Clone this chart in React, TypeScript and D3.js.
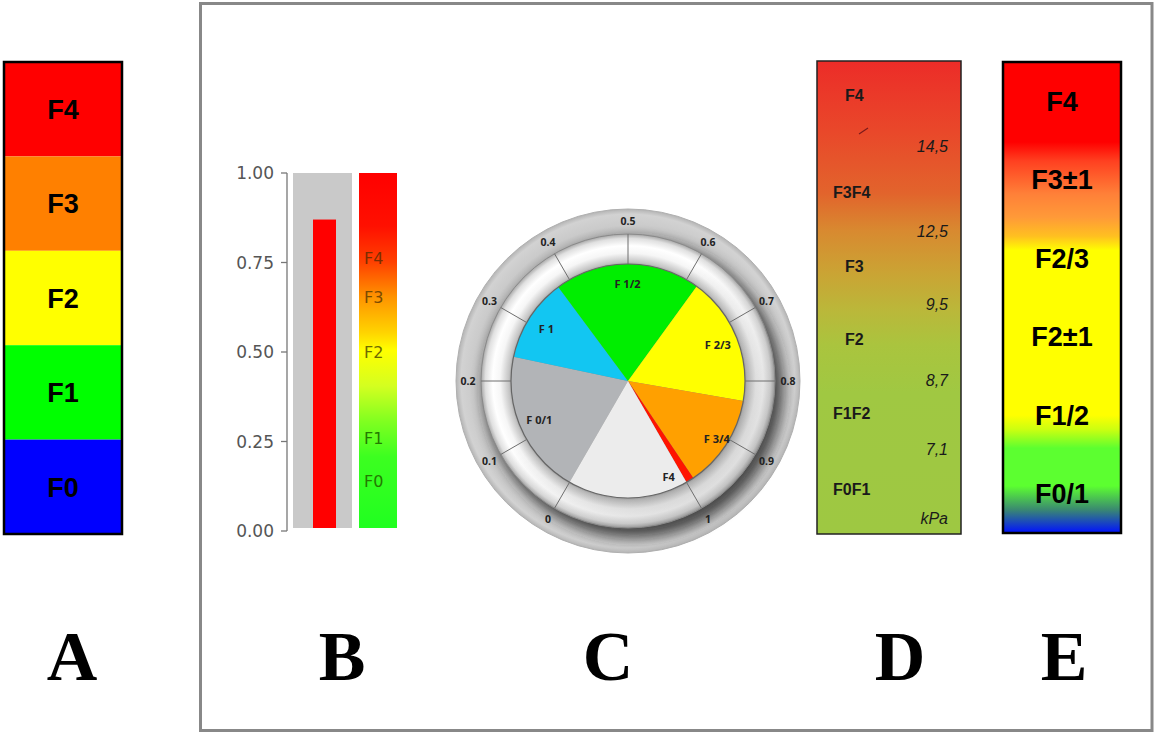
import React from 'react';
import * as d3 from 'd3';

// ---------- Panel A ----------
const stagesA = ['F4', 'F3', 'F2', 'F1', 'F0'];
const colorsA = ['#ff0000', '#ff8000', '#ffff00', '#00ff00', '#0000ff'];

// ---------- Panel B ----------
const ticksB = [0, 0.25, 0.5, 0.75, 1];
const barValueB = 0.87;
const labelsB = ['F4', 'F3', 'F2', 'F1', 'F0'];
const labelValuesB = [0.763, 0.654, 0.5, 0.26, 0.14];
const labelColorsB = ['#7a2e00', '#7a4a00', '#6e6a00', '#237a00', '#237a00'];
const gradStopsB: [number, string][] = [
  [0, '#ff0000'], [0.15, '#ff1000'], [0.25, '#ff4000'], [0.35, '#ff9400'],
  [0.45, '#ffd400'], [0.5, '#ffff00'], [0.6, '#d4ff20'], [0.7, '#80ff20'],
  [0.8, '#3cff20'], [1, '#20ff20'],
];

// ---------- Panel C ----------
const gaugeTicks = [0, 0.1, 0.2, 0.3, 0.4, 0.5, 0.6, 0.7, 0.8, 0.9, 1];
const sliceNames = ['F 0/1', 'F 1', 'F 1/2', 'F 2/3', 'F 3/4', 'F4', ''];
const sliceStart = [0, 0.24, 0.378, 0.62, 0.833, 0.987, 1.0];
const sliceEnd = [0.24, 0.378, 0.62, 0.833, 0.987, 1.0, 1.2];
const sliceColors = ['#b2b4b7', '#12c6f2', '#00ee00', '#ffff00', '#ffa000', '#ff1400', '#ececec'];

// ---------- Panel D ----------
const itemsD = ['F4', '14,5', 'F3F4', '12,5', 'F3', '9,5', 'F2', '8,7', 'F1F2', '7,1', 'F0F1', 'kPa'];
const kindD = ['s', 'v', 's', 'v', 's', 'v', 's', 'v', 's', 'v', 's', 'v'];
const posD = [0.072, 0.18, 0.277, 0.36, 0.434, 0.515, 0.589, 0.675, 0.745, 0.82, 0.906, 0.966];
const gradStopsD: [number, string][] = [
  [0, '#ec2c28'], [0.15, '#e9482a'], [0.28, '#e2642c'], [0.36, '#d88a30'],
  [0.45, '#caa434'], [0.53, '#bab83a'], [0.6, '#aac43e'], [0.7, '#a0c842'], [1, '#9ec842'],
];

// ---------- Panel E ----------
const stagesE = ['F4', 'F3±1', 'F2/3', 'F2±1', 'F1/2', 'F0/1'];
const gradStopsE: [number, string][] = [
  [0, '#ff0000'], [0.17, '#ff0000'], [0.21, '#ff4020'], [0.28, '#ff8038'], [0.33, '#ff9a38'],
  [0.37, '#ffc020'], [0.4, '#ffff00'], [0.75, '#ffff00'], [0.78, '#ccff10'], [0.82, '#5cff30'],
  [0.9, '#5cff30'], [0.95, '#3a8a70'], [1, '#0010ff'],
];

// ---------- Letters ----------
const panelLetters = ['A', 'B', 'C', 'D', 'E'];
const letterX = [72, 342, 608, 900, 1064];

const sans = 'Liberation Sans, Arial, sans-serif';

export default function App() {
  // A
  const yA = d3.scaleBand<string>().domain(stagesA).range([62, 534]);
  // B
  const yB = d3.scaleLinear().domain([0, 1]).range([531, 173]);
  // C
  const cx = 628, cy = 381;
  const rPie = 117, rRing = 147, rOuter = 172;
  const ang = d3.scaleLinear().domain([0, 1]).range([-150, 150]);
  const rad = (v: number) => (ang(v) * Math.PI) / 180;
  const arc = d3.arc<any>().innerRadius(0).outerRadius(rPie);
  const slices = sliceNames.map((n, i) => ({
    name: n, color: sliceColors[i],
    startAngle: rad(sliceStart[i]), endAngle: rad(sliceEnd[i]),
  }));
  // D
  const yD = d3.scaleLinear().domain([0, 1]).range([61, 534]);
  // E
  const yE = d3.scalePoint<string>().domain(stagesE).range([62, 533]).padding(0.5);

  const polar = (a: number, r: number) => [Math.sin(a) * r, -Math.cos(a) * r];

  return (
    <svg width={1156} height={733} style={{ position: 'absolute', left: 0, top: 0 }}>
      <defs>
        <linearGradient id="gB" x1="0" y1="0" x2="0" y2="1">
          {gradStopsB.map(([o, c], i) => <stop key={i} offset={o} stopColor={c} />)}
        </linearGradient>
        <linearGradient id="gD" x1="0" y1="0" x2="0" y2="1">
          {gradStopsD.map(([o, c], i) => <stop key={i} offset={o} stopColor={c} />)}
        </linearGradient>
        <linearGradient id="gE" x1="0" y1="0" x2="0" y2="1">
          {gradStopsE.map(([o, c], i) => <stop key={i} offset={o} stopColor={c} />)}
        </linearGradient>
        <radialGradient id="gOuter" cx={0} cy={0} r={rOuter} gradientUnits="userSpaceOnUse">
          <stop offset={0.85} stopColor="#b8b8b8" />
          <stop offset={0.9} stopColor="#cacaca" />
          <stop offset={0.97} stopColor="#d2d2d2" />
          <stop offset={1} stopColor="#b4b4b4" />
        </radialGradient>
        <radialGradient id="gRing" cx={0} cy={0} r={rRing} gradientUnits="userSpaceOnUse">
          <stop offset={0.78} stopColor="#8c8c8c" />
          <stop offset={0.81} stopColor="#c4c4c4" />
          <stop offset={0.87} stopColor="#f6f6f6" />
          <stop offset={0.92} stopColor="#ffffff" />
          <stop offset={0.97} stopColor="#e0e0e0" />
          <stop offset={1} stopColor="#a8a8a8" />
        </radialGradient>
        <linearGradient id="gShade" x1="0" y1="0" x2="1" y2="1">
          <stop offset={0.4} stopColor="#000" stopOpacity={0} />
          <stop offset={1} stopColor="#000" stopOpacity={0.18} />
        </linearGradient>
        <filter id="blur" x="-30%" y="-30%" width="160%" height="160%">
          <feGaussianBlur stdDeviation={7} />
        </filter>
      </defs>

      {/* Frame */}
      <rect x={200.5} y={3.5} width={951.5} height={727} fill="none" stroke="#888" strokeWidth={3} />

      {/* Panel A */}
      <g>
        {stagesA.map((s, i) => (
          <g key={s}>
            <rect x={4} y={yA(s)!} width={118} height={yA.bandwidth()} fill={colorsA[i]} />
            <text x={63} y={yA(s)! + yA.bandwidth() / 2} dy="0.36em" textAnchor="middle"
              fontFamily={sans} fontWeight="bold" fontSize={27} fill="#000">{s}</text>
          </g>
        ))}
        <rect x={4} y={62} width={118} height={472} fill="none" stroke="#000" strokeWidth={2.5} />
      </g>

      {/* Panel B */}
      <g>
        <line x1={287} x2={287} y1={yB(0)} y2={yB(1)} stroke="#777" strokeWidth={1.3} />
        {ticksB.map((t) => (
          <g key={t}>
            <line x1={281} x2={287} y1={yB(t)} y2={yB(t)} stroke="#777" strokeWidth={1.3} />
            <text x={274} y={yB(t)} dy="0.36em" textAnchor="end" fontFamily="DejaVu Sans, sans-serif"
              fontSize={17} fill="#555">{t.toFixed(2)}</text>
          </g>
        ))}
        <rect x={293} y={yB(1)} width={59} height={yB(0) - yB(1) - 3} fill="#c9c9c9" />
        <rect x={313} y={yB(barValueB)} width={23} height={yB(0) - yB(barValueB) - 3} fill="#ff0000" />
        <rect x={359} y={yB(1)} width={38} height={yB(0) - yB(1) - 3} fill="url(#gB)" />
        {labelsB.map((l, i) => (
          <text key={l} x={364} y={yB(labelValuesB[i])} dy="0.36em" fontFamily="DejaVu Sans, sans-serif"
            fontSize={16} fill={labelColorsB[i]}>{l}</text>
        ))}
      </g>

      {/* Panel C */}
      <g transform={`translate(${cx},${cy})`}>
        <circle r={rOuter} fill="url(#gOuter)" stroke="#b0b0b0" strokeWidth={1} />
        <circle r={rRing + 2} cx={6} cy={8} fill="#222" opacity={0.75} filter="url(#blur)" />
        <circle r={rRing} fill="url(#gRing)" />
        <circle r={rRing} fill="url(#gShade)" />
        <circle r={rRing} fill="none" stroke="#8a8a8a" strokeWidth={1} />
        {slices.map((s, i) => (
          <path key={i} d={arc(s) as string} fill={s.color} />
        ))}
        <circle r={rPie} fill="none" stroke="#666" strokeWidth={1.2} />
        {gaugeTicks.map((t) => {
          const a = rad(t);
          const [x1, y1] = polar(a, rPie);
          const [x2, y2] = polar(a, rRing);
          const [tx, ty] = polar(a, 160);
          return (
            <g key={t}>
              <line x1={x1} y1={y1} x2={x2} y2={y2} stroke="#6e6e6e" strokeWidth={1} />
              <text x={tx} y={ty} dy="0.36em" textAnchor="middle" fontFamily="Noto Sans, sans-serif"
                fontWeight="bold" fontSize={10.5} fill="#222">{t}</text>
            </g>
          );
        })}
        {slices.map((s, i) => {
          if (!s.name) return null;
          let a = (s.startAngle + s.endAngle) / 2;
          let r = 97;
          if (s.name === 'F4') { a = s.endAngle + (7 * Math.PI) / 180; r = 104; }
          if (s.name === 'F 3/4') r = 106;
          const [x, y] = polar(a, r);
          return (
            <text key={i} x={x} y={y} dy="0.36em" textAnchor="middle" fontFamily="Noto Sans, sans-serif"
              fontWeight="bold" fontSize={11} fill="#222">{s.name}</text>
          );
        })}
      </g>

      {/* Panel D */}
      <g>
        <rect x={817} y={61} width={144} height={473} fill="url(#gD)" stroke="#222" strokeWidth={1.5} />
        <line x1={859} y1={134} x2={868} y2={128} stroke="#7a1a1a" strokeWidth={1.2} />
        {itemsD.map((t, i) => {
          const isStage = kindD[i] === 's';
          const x = isStage ? (t.length > 2 ? 833 : 845) : 948;
          return (
            <text key={t} x={x} y={yD(posD[i])} dy="0.36em" textAnchor={isStage ? 'start' : 'end'}
              fontFamily={sans} fontWeight={isStage ? 'bold' : 'normal'}
              fontStyle={isStage ? 'normal' : 'italic'} fontSize={16} fill="#1a1a1a">{t}</text>
          );
        })}
      </g>

      {/* Panel E */}
      <g>
        <rect x={1003} y={62} width={118} height={471} fill="url(#gE)" stroke="#000" strokeWidth={2.5} />
        {stagesE.map((s) => (
          <text key={s} x={1062} y={yE(s)!} dy="0.36em" textAnchor="middle"
            fontFamily={sans} fontWeight="bold" fontSize={27} fill="#000">{s}</text>
        ))}
      </g>

      {/* Letters */}
      {panelLetters.map((l, i) => (
        <text key={l} x={letterX[i]} y={680} textAnchor="middle" fontFamily="Liberation Serif, serif"
          fontWeight="bold" fontSize={70} fill="#000">{l}</text>
      ))}
    </svg>
  );
}
